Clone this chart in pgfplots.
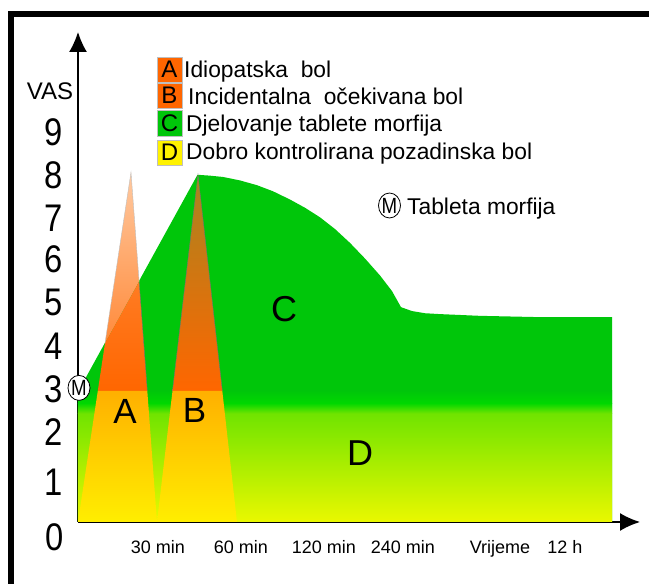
\documentclass[border=0pt]{standalone}
\usepackage{fontspec}
\setmainfont{Liberation Sans}
\usepackage{pgfplots}
\pgfplotsset{compat=1.18}
\usetikzlibrary{arrows.meta}

\definecolor{cgreen}{HTML}{00C60A}
\definecolor{cgreenb}{HTML}{00D800}
\definecolor{dmid}{HTML}{70E400}
\definecolor{dyellow}{HTML}{EAF800}
\definecolor{aorange}{HTML}{FF6600}
\definecolor{ayellow}{HTML}{FFEE00}
\definecolor{aamber}{HTML}{FFB000}
\definecolor{apeach}{HTML}{FF8A3A}
\definecolor{apeachl}{HTML}{FFC9A0}
\definecolor{btip}{HTML}{A88420}

\newcommand{\fs}[1]{\fontsize{#1}{#1}\selectfont}

\begin{document}
\begin{tikzpicture}[x=1pt,y=1pt]
\path[use as bounding box] (0,0) rectangle (649,584);
% frame: only top and left edge show
\fill[black] (8,567) rectangle (649,573);
\fill[black] (8,0) rectangle (14,573);

\begin{axis}[
    at={(78pt,62pt)},
    anchor=origin,
    scale only axis,
    width=562pt,
    height=490pt,
    xmin=0, xmax=562,
    ymin=0, ymax=11.29,
    clip=false,
    axis lines=left,
    axis line style={line width=1.5pt,-{Latex[length=20pt,width=18pt]}},
    xtick={80,163,246,325,422,487},
    xticklabels={30 min,60 min,120 min,240 min,Vrijeme,12 h},
    xticklabel style={font=\fs{18},yshift=-15pt},
    ytick={0.92,2.07,3.06,4.05,5.07,6.06,7.0,7.98,8.97},
    yticklabels={1,2,3,4,5,6,7,8,9},
    yticklabel style={font=\fs{38.5},xscale=0.85,xshift=-14pt},
    /pgf/number format/assume math mode=true,
    major tick length=0pt,
    tick style={draw=none},
]
% C
\addplot[draw=none,fill=cgreen] coordinates {
 (0,3.0)(119.5,8.0)(132,7.98)(145,7.95)(162,7.87)(179,7.76)(195,7.62)(212,7.43)
 (227,7.24)(242,7.02)(257,6.75)(272,6.43)(287,6.07)(302,5.68)(314,5.32)(323,4.95)(334,4.86)
 (347,4.81)(362,4.79)(402,4.75)(462,4.72)(534,4.72)(534,0)(0,0)} -- cycle;
\addplot[draw=none,bottom color=cgreenb,top color=cgreen] coordinates {
 (0,2.74)(534,2.74)(534,3.02)(0,3.02)} -- cycle;
% D
\addplot[draw=none,bottom color=dyellow,top color=dmid] coordinates {
 (0,0)(534,0)(534,2.5)(0,2.5)} -- cycle;
\addplot[draw=none,bottom color=dmid,top color=cgreenb] coordinates {
 (0,2.5)(534,2.5)(534,2.74)(0,2.74)} -- cycle;
% A
\addplot[draw=none,bottom color=apeach,top color=apeachl] coordinates {
 (27,4.12)(61.1,5.54)(53,8.06)} -- cycle;
\addplot[draw=none,bottom color=aorange,top color=apeach!60!aorange] coordinates {
 (19.8,3.02)(69.3,3.02)(61.1,5.54)(27,4.12)} -- cycle;
\addplot[draw=none,bottom color=ayellow,top color=aamber] coordinates {
 (0,0)(79,0)(69.3,3.02)(19.8,3.02)} -- cycle;
% B
\addplot[draw=none,bottom color=aorange,top color=btip] coordinates {
 (94.5,3.02)(144.3,3.02)(120,8.0)} -- cycle;
\addplot[draw=none,bottom color=ayellow,top color=aamber] coordinates {
 (79,0)(159,0)(144.3,3.02)(94.5,3.02)} -- cycle;
% thin edges of the peaks
\addplot[black!55,line width=0.4pt] coordinates {(94.5,3.02)(120,8.0)(144.3,3.02)};
\addplot[black!55,line width=0.4pt] coordinates {(61.1,5.54)(69.3,3.02)};
\addplot[black!25,line width=0.4pt] coordinates {(27,4.12)(53,8.06)(61.1,5.54)};
% tablet marker at the start of C
\addplot[only marks,mark=*,mark size=12.5pt,mark options={fill=white,draw=black,line width=0.8pt,xscale=0.88}]
 coordinates {(1,3.09)};
\end{axis}

% labels on top of the areas
\node[font=\fs{22},xscale=0.85,inner sep=0pt] at (79,196) {M};
\node[font=\fs{35},inner sep=0pt] at (125,173) {A};
\node[font=\fs{35},inner sep=0pt] at (194.5,174) {B};
\node[font=\fs{36},inner sep=0pt] at (284,275) {C};
\node[font=\fs{36},inner sep=0pt] at (360,131) {D};

% y axis name and the 0, which sits below the axis
\node[font=\fs{24},inner sep=0pt] at (50,493) {VAS};
\node[font=\fs{38.5},xscale=0.85,inner sep=0pt] at (55,47) {0};

% legend
\foreach \yy/\hh/\col/\lt in {502/25/aorange/A, 476/25/aorange/B, 448/26/cgreen/C, 419/25/yellow/D}{
  \fill[\col,draw=black!25,line width=0.6pt] (157,\yy) rectangle (182,\yy+\hh);
  \node[font=\fs{24},inner sep=0pt] at (169.5,\yy+\hh/2) {\lt};
}
\node[anchor=base west,inner sep=0pt,font=\fs{22.8}] at (184,506) {Idiopatska\ \ bol};
\node[anchor=base west,inner sep=0pt,font=\fs{22.8}] at (188,479) {Incidentalna\ \ očekivana bol};
\node[anchor=base west,inner sep=0pt,font=\fs{22.8}] at (186,452) {Djelovanje tablete morfija};
\node[anchor=base west,inner sep=0pt,font=\fs{22.8}] at (186,424) {Dobro kontrolirana pozadinska bol};

% M key
\draw[black,line width=0.8pt,fill=white] (389.5,378.5) ellipse (11 and 12.5);
\node[font=\fs{22},xscale=0.85,inner sep=0pt] at (389.5,378.5) {M};
\node[anchor=base west,inner sep=0pt,font=\fs{22.8}] at (407,369) {Tableta morfija};
\end{tikzpicture}
\end{document}
